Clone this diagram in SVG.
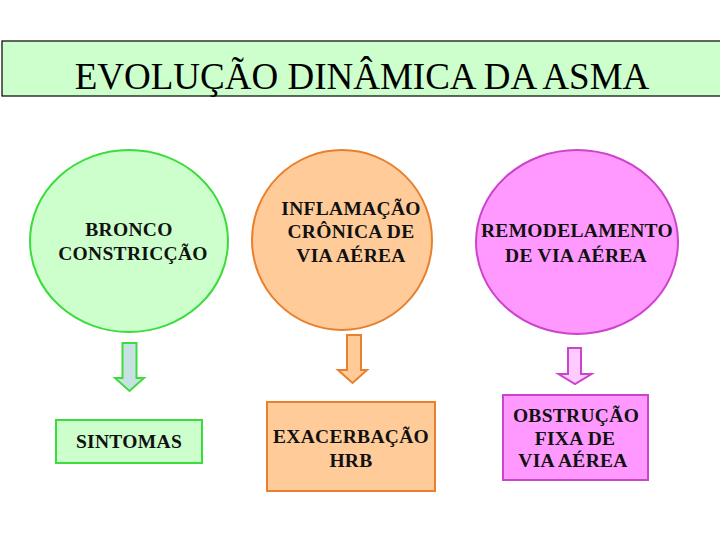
<svg xmlns="http://www.w3.org/2000/svg" width="720" height="540" viewBox="0 0 720 540">
<style>
.lbl{font-family:"Liberation Serif","Times New Roman",serif;font-weight:bold;font-size:19.5px;letter-spacing:0.3px;text-anchor:middle;fill:#111}
.title{font-family:"Liberation Serif","Times New Roman",serif;font-size:37px;text-anchor:middle;fill:#000}
.g{fill:#ccffcc;stroke:#3ddc3d;stroke-width:2}
.o{fill:#ffcc99;stroke:#e8802e;stroke-width:2}
.p{fill:#ff99ff;stroke:#cc44cc;stroke-width:2}
</style>
<rect width="720" height="540" fill="#ffffff"/>
<g id="title">
<rect x="2" y="41" width="720" height="55" fill="#ccffcc" stroke="#000" stroke-width="1.2"/>
<text class="title" x="362" y="89">EVOLUÇÃO DINÂMICA DA ASMA</text>
</g>
<g id="bronco">
<ellipse class="g" cx="129" cy="241" rx="99" ry="91"/>
<text class="lbl" x="129" y="236">BRONCO</text>
<text class="lbl" x="133" y="260">CONSTRICÇÃO</text>
</g>
<g id="inflamacao">
<ellipse class="o" cx="342" cy="240" rx="90" ry="90"/>
<text class="lbl" x="351" y="215">INFLAMAÇÃO</text>
<text class="lbl" x="351" y="238">CRÔNICA DE</text>
<text class="lbl" x="351" y="262">VIA AÉREA</text>
</g>
<g id="remodelamento">
<ellipse class="p" cx="577" cy="242" rx="101" ry="92"/>
<text class="lbl" x="577" y="237">REMODELAMENTO</text>
<text class="lbl" x="576" y="262">DE VIA AÉREA</text>
</g>
<g id="sintomas">
<rect class="g" x="56" y="420" width="146" height="43"/>
<text class="lbl" x="129" y="448">SINTOMAS</text>
</g>
<g id="exacerbacao">
<rect class="o" x="267" y="402" width="168" height="89"/>
<text class="lbl" x="351" y="443">EXACERBAÇÃO</text>
<text class="lbl" x="351" y="467">HRB</text>
</g>
<g id="obstrucao">
<rect class="p" x="503" y="395" width="145" height="85"/>
<text class="lbl" x="576" y="422">OBSTRUÇÃO</text>
<text class="lbl" x="575" y="445">FIXA DE</text>
<text class="lbl" x="573" y="467">VIA AÉREA</text>
</g>
<g id="connectors">
<path d="M122.5,343 H136.5 V378 H144 L129.5,391 L115,378 H122.5 Z" fill="#c8e2e4" stroke="#3ddc3d" stroke-width="2" stroke-linejoin="miter"/>
<path d="M347,335 H361 V370 H367 L352.5,383 L338,370 H347 Z" fill="#ffcc99" stroke="#e8802e" stroke-width="2"/>
<path d="M568,348 H581 V374 H591.5 L575,384 L558.5,374 H568 Z" fill="#ffccff" stroke="#cc44cc" stroke-width="2"/>
</g>
</svg>
